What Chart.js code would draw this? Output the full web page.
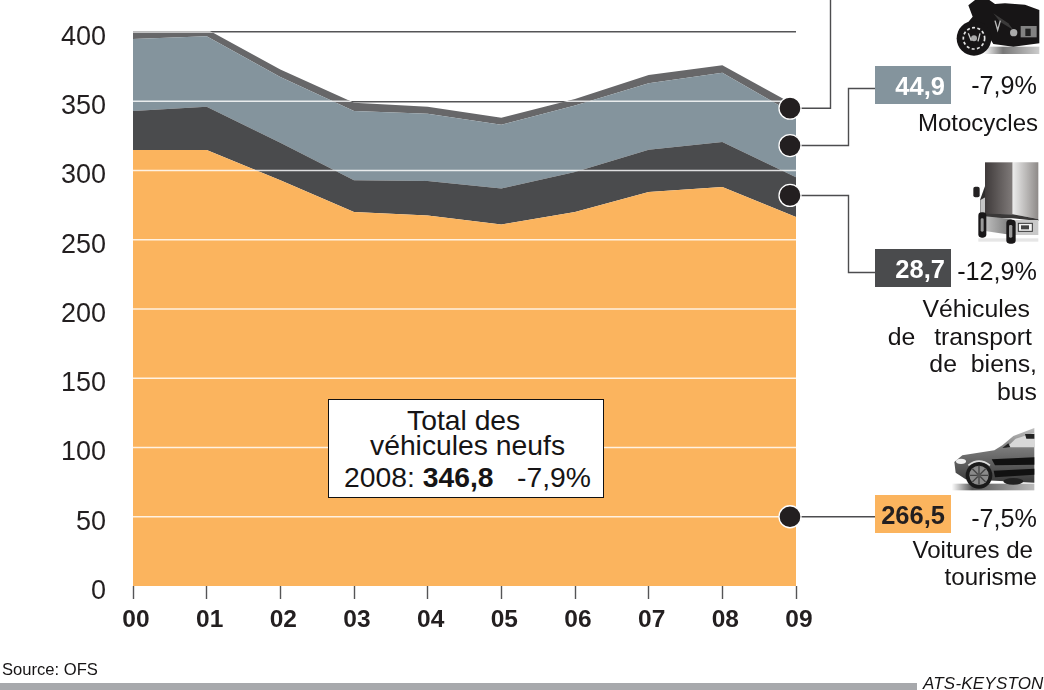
<!DOCTYPE html>
<html lang="fr">
<head>
<meta charset="utf-8">
<title>Véhicules neufs</title>
<script src="https://cdn.jsdelivr.net/npm/chart.js@4"></script>
<style>
html,body{margin:0;padding:0;background:#fff;width:1044px;height:690px;overflow:hidden}
body{position:relative;font-family:"Liberation Sans",Arial,sans-serif;color:#161415}
#wrap{position:absolute;left:0;top:0;width:1044px;height:690px}
.t{position:absolute;white-space:pre;line-height:1;transform:translateY(-50%)}
.r{text-align:right}
.box{position:absolute;width:76px;height:38px}
.val{position:absolute;width:70px;text-align:right;font-weight:bold;font-size:25.5px;line-height:40px;left:0;top:0}
#total{position:absolute;left:328px;top:399px;width:274px;height:97px;background:#fff;border:1px solid #111;box-sizing:content-box}
svg.ico{position:absolute;overflow:hidden}
#bar{position:absolute;left:0;top:683px;width:917px;height:7px;background:#a7a9ac}
</style>
</head>
<body>
<div id="wrap"><canvas id="c" width="1044" height="690" style="width:1044px;height:690px;display:block"></canvas></div>

<div id="total"></div>
<div class="t" style="left:407px;top:420px;font-size:28.3px">Total des</div>
<div class="t" style="left:370px;top:445px;font-size:28.3px">véhicules neufs</div>
<div class="t" style="left:344px;top:477px;font-size:28.3px">2008: <b>346,8</b>   -7,9%</div>

<div class="box" style="left:875px;top:66px;background:#84949d"><div class="val" style="color:#fff">44,9</div></div>
<div class="box" style="left:875px;top:249px;background:#4a4b4d"><div class="val" style="color:#fff">28,7</div></div>
<div class="box" style="left:875px;top:495px;background:#fbb45e"><div class="val" style="color:#231f20">266,5</div></div>

<div class="t r" style="right:7px;top:86px;font-size:25.2px">-7,9%</div>
<div class="t r" style="right:7px;top:272px;font-size:25.2px">-12,9%</div>
<div class="t r" style="right:7px;top:519px;font-size:25.2px">-7,5%</div>

<div class="t r" style="right:6px;top:123px;font-size:24px">Motocycles</div>
<div class="t r" style="right:14px;top:309px;font-size:24.8px">Véhicules</div>
<div class="t r" style="right:12px;top:337px;font-size:24.8px;word-spacing:12px">de transport</div>
<div class="t r" style="right:7px;top:364px;font-size:24.8px;word-spacing:7px">de biens,</div>
<div class="t r" style="right:7px;top:392px;font-size:24.8px">bus</div>
<div class="t r" style="right:11px;top:550px;font-size:24.1px">Voitures de</div>
<div class="t r" style="right:7px;top:577px;font-size:24.1px">tourisme</div>

<div class="t" style="left:2px;top:670px;font-size:16.6px">Source: OFS</div>
<div id="bar"></div>
<div class="t" style="left:923px;top:683px;font-size:17px;font-style:italic;letter-spacing:.2px">ATS-KEYSTON</div>

<!-- motorcycle -->
<svg class="ico" style="left:950px;top:0" width="94" height="62" viewBox="0 0 282 186">
<defs><linearGradient id="sh" x1="0" x2="1"><stop offset="0" stop-color="#fff"/><stop offset=".35" stop-color="#777"/><stop offset="1" stop-color="#ccc"/></linearGradient></defs>
<rect x="100" y="140" width="168" height="22" fill="url(#sh)"/>
<path d="M268 30 L225 14 L165 10 L135 12 L118 0 L75 0 L55 16 L68 50 L50 72 L110 100 L130 132 L190 140 L268 130 Z" fill="#171516"/>
<circle cx="72" cy="115" r="52" fill="#171516"/>
<circle cx="72" cy="115" r="32" fill="none" stroke="#e6e6e6" stroke-width="5" stroke-dasharray="9 7"/>
<circle cx="72" cy="115" r="9" fill="#aaa"/>
<path d="M55 100 l9 22 M90 100 l-6 24" stroke="#ccc" stroke-width="4"/>
<path d="M130 40 L175 70 L190 90 L150 65 Z" fill="#3b3a3a"/>
<path d="M135 62 l8 28 l8 -28" fill="none" stroke="#bbb" stroke-width="4"/>
<circle cx="191" cy="98" r="11" fill="#aaa"/>
<rect x="212" y="78" width="48" height="34" fill="#9d9d9d" opacity=".8"/>
<rect x="226" y="86" width="16" height="22" fill="#222"/>
</svg>

<!-- truck -->
<svg class="ico" style="left:965px;top:155px" width="79" height="92" viewBox="0 0 237 276">
<defs>
<linearGradient id="tb" x1="0" x2="1"><stop offset="0" stop-color="#3f3a3a"/><stop offset="1" stop-color="#807b7a"/></linearGradient>
<linearGradient id="ts" x1="0" x2="1"><stop offset="0" stop-color="#ececec"/><stop offset="1" stop-color="#8e8a88"/></linearGradient>
<linearGradient id="tg" x1="0" x2="1"><stop offset="0" stop-color="#ccc"/><stop offset="1" stop-color="#777"/></linearGradient>
</defs>
<rect x="40" y="250" width="180" height="10" fill="#e6e6e6"/>
<path d="M45 135 L62 88 L66 178 L45 185 Z" fill="#2f2d2d"/>
<rect x="25" y="95" width="19" height="32" rx="6" fill="#232122"/>
<path d="M46 135 L64 125 L66 178 L46 175 Z" fill="#c5c5c5"/>
<rect x="60" y="22" width="83" height="155" fill="url(#tb)"/>
<path d="M143 22 H220 V192 L143 178 Z" fill="url(#ts)"/>
<path d="M62 176 L143 178 L220 192 V198 L143 190 L62 188 Z" fill="#3a3838"/>
<path d="M45 182 L140 192 L140 240 L60 228 L45 222 Z" fill="url(#tg)"/>
<path d="M150 195 H220 V240 H150 Z" fill="#c9c9c9"/>
<rect x="160" y="205" width="42" height="24" fill="#f2f2f2" stroke="#333" stroke-width="3"/>
<rect x="168" y="211" width="24" height="12" fill="#444"/>
<rect x="40" y="172" width="24" height="76" rx="10" fill="#191718"/>
<rect x="47" y="190" width="9" height="40" rx="4" fill="#999"/>
<rect x="124" y="194" width="28" height="72" rx="10" fill="#191718"/>
<rect x="132" y="210" width="10" height="38" rx="4" fill="#999"/>
</svg>

<!-- car -->
<svg class="ico" style="left:945px;top:422px" width="99" height="72" viewBox="0 0 297 216">
<defs>
<linearGradient id="cb" x1="0" x2="0" y1="0" y2="1"><stop offset="0" stop-color="#c0c0c0"/><stop offset=".4" stop-color="#777"/><stop offset="1" stop-color="#3a3a3a"/></linearGradient>
<linearGradient id="cs" x1="0" x2="1"><stop offset="0" stop-color="#fff"/><stop offset=".25" stop-color="#555"/><stop offset="1" stop-color="#bbb"/></linearGradient>
</defs>
<rect x="20" y="185" width="248" height="20" fill="url(#cs)"/>
<path d="M268 18 L205 42 L172 70 L148 85 L52 100 L28 120 L32 152 L62 172 L268 182 Z" fill="url(#cb)"/>
<path d="M185 76 L212 50 L268 32 V76 Z" fill="#d8d8d8"/>
<path d="M172 78 L190 64 L196 76 Z M240 36 H268 V50 H244 Z" fill="#222"/>
<path d="M140 112 L268 106 V128 L150 130 Z" fill="#111"/>
<path d="M146 146 L268 140 V158 L150 166 Z" fill="#111"/>
<ellipse cx="205" cy="178" rx="30" ry="10" fill="#222"/>
<ellipse cx="48" cy="118" rx="15" ry="8" fill="#eee"/>
<circle cx="102" cy="160" r="40" fill="#1a1a1a"/>
<circle cx="102" cy="160" r="29" fill="#8a8a8a"/>
<g stroke="#444" stroke-width="4"><path d="M102 132 V188 M74 160 H130 M82 140 L122 180 M122 140 L82 180"/></g>
<circle cx="102" cy="160" r="7" fill="#555"/>
<path d="M70 130 Q102 105 135 130" fill="none" stroke="#ddd" stroke-width="5"/>
</svg>

<script>
const years = ['00','01','02','03','04','05','06','07','08','09'];
const voitures = [314.8,314.8,293,270,267.5,261,270,284.5,288,266.5];
const transport = [28.2,31.2,27,23,25,26,29,30.5,32.5,28.7];
const motocycles = [52,51,47.5,50,48.5,46,48,48,50,44.9];
const autres = [5.7,5,5.5,6,5,5,4.6,6,5.5,6.7];
const yTicks = [0,50,100,150,200,250,300,350,400];
const calloutLevels = [345,318,282,50];

const colors = {orange:'#fbb45e',dark:'#4a4b4d',blue:'#84949d',grey:'#676769',ink:'#231f20',grid:'#555557'};

const overlay = {
  id:'overlay',
  afterDatasetsDraw(chart){
    const {ctx,scales:{x,y}} = chart;
    const totals = years.map((_,i)=>voitures[i]+transport[i]+motocycles[i]+autres[i]);
    ctx.save();
    ctx.beginPath();
    ctx.moveTo(x.getPixelForValue(0),y.getPixelForValue(0));
    totals.forEach((t,i)=>ctx.lineTo(x.getPixelForValue(i),y.getPixelForValue(t)));
    ctx.lineTo(x.getPixelForValue(years.length-1),y.getPixelForValue(0));
    ctx.closePath();
    ctx.clip();
    ctx.strokeStyle='rgba(255,255,255,.82)';
    ctx.lineWidth=1.4;
    yTicks.slice(1).forEach(v=>{
      const p=y.getPixelForValue(v);
      ctx.beginPath();ctx.moveTo(x.left,p);ctx.lineTo(x.right,p);ctx.stroke();
    });
    ctx.restore();

    const cx = x.getPixelForValue(years.length-1)-6;
    const ys = calloutLevels.map(v=>y.getPixelForValue(v));
    ctx.save();
    ctx.strokeStyle='#4d4d4f';
    ctx.lineWidth=1.4;
    const line=pts=>{ctx.beginPath();pts.forEach((p,i)=>i?ctx.lineTo(p[0],p[1]):ctx.moveTo(p[0],p[1]));ctx.stroke();};
    line([[cx,ys[0]],[830.5,ys[0]],[830.5,0]]);
    line([[cx,ys[1]],[848.5,ys[1]],[848.5,88.5],[875,88.5]]);
    line([[cx,ys[2]],[848.5,ys[2]],[848.5,272.5],[875,272.5]]);
    line([[cx,ys[3]],[875,ys[3]]]);
    ys.forEach(p=>{
      ctx.beginPath();ctx.arc(cx,p,11,0,Math.PI*2);
      ctx.fillStyle=colors.ink;ctx.fill();
      ctx.strokeStyle='#fff';ctx.lineWidth=1.3;ctx.stroke();
    });
    ctx.restore();
  }
};

const area = (label,data,color,fill)=>({label,data,backgroundColor:color,borderColor:color,borderWidth:0,fill,pointRadius:0,tension:0,stack:'s'});

new Chart(document.getElementById('c'),{
  type:'line',
  data:{labels:years,datasets:[
    area('Voitures de tourisme',voitures,colors.orange,'origin'),
    area('Véhicules de transport de biens, bus',transport,colors.dark,'-1'),
    area('Motocycles',motocycles,colors.blue,'-1'),
    area('Autres',autres,colors.grey,'-1')
  ]},
  options:{
    responsive:false,animation:false,
    layout:{padding:{top:32,right:248,left:0,bottom:0}},
    plugins:{legend:{display:false},tooltip:{enabled:false}},
    scales:{
      x:{
        offset:false,
        border:{display:false},
        grid:{drawOnChartArea:false,drawTicks:true,tickLength:13,tickColor:'#555557',tickWidth:1.4},
        ticks:{color:'#231f20',font:{family:'"Liberation Sans"',size:24.5,weight:'bold'},padding:7,labelOffset:3,maxRotation:0,autoSkip:false},
        afterFit(s){s.height=104;s.paddingLeft=0;s.paddingRight=0;}
      },
      y:{
        stacked:true,min:0,max:400,
        border:{display:false},
        afterBuildTicks(s){s.ticks=yTicks.map(v=>({value:v}));},
        grid:{drawTicks:false,lineWidth:1.5,color:c=>c.tick&&c.tick.value===0?'rgba(0,0,0,0)':colors.grid},
        ticks:{color:'#231f20',font:{family:'"Liberation Sans"',size:27},padding:27,labelOffset:5.5,callback:v=>String(v)},
        afterFit(s){s.width=133;s.paddingTop=0;s.paddingBottom=0;}
      }
    }
  },
  plugins:[overlay]
});
</script>
</body>
</html>
